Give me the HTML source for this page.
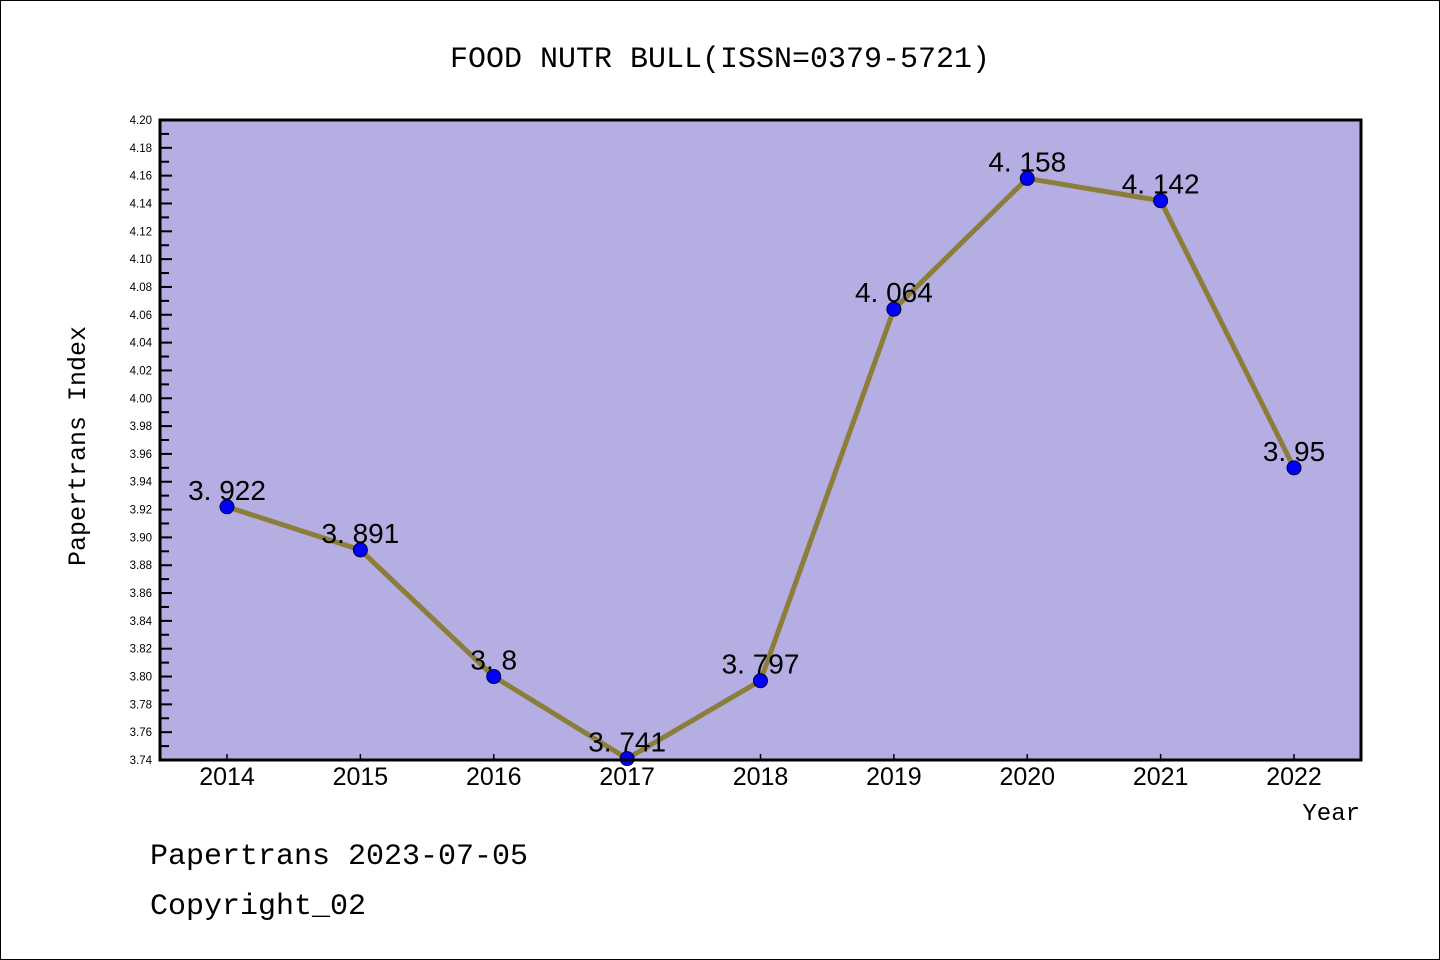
<!DOCTYPE html>
<html><head><meta charset="utf-8"><style>
html,body{margin:0;padding:0;background:#fff}
svg{display:block}
.mono{font-family:"Liberation Mono","WenQuanYi Zen Hei",monospace}
.sans{font-family:"Liberation Sans","DejaVu Sans",sans-serif}
</style></head><body>
<svg id="chart" width="1440" height="960" xmlns="http://www.w3.org/2000/svg">
<rect x="0.5" y="0.5" width="1439" height="959" fill="#fff" stroke="#000"/>
<text x="720" y="67" text-anchor="middle" class="mono" font-size="30">FOOD NUTR BULL(ISSN=0379-5721)</text>
<rect x="160" y="120" width="1201" height="640" fill="#b5aee2"/>
<g id="yaxis"></g>
<g id="xaxis"></g>
<g id="series"></g>
<rect x="160" y="120" width="1201" height="640" fill="none" stroke="#000" stroke-width="3"/>
<text transform="translate(85,446) rotate(-90)" text-anchor="middle" class="mono" font-size="25">Papertrans Index</text>
<text x="1360" y="820" text-anchor="end" class="mono" font-size="24">Year</text>
<text x="150" y="864" class="mono" font-size="30">Papertrans 2023-07-05</text>
<text x="150" y="914" class="mono" font-size="30">Copyright_02</text>
</svg>
<script>
const years = ["2014","2015","2016","2017","2018","2019","2020","2021","2022"];
const values = [3.922,3.891,3.8,3.741,3.797,4.064,4.158,4.142,3.95];
const valueLabels = ["3.922","3.891","3.8","3.741","3.797","4.064","4.158","4.142","3.95"];
const yMin = 3.74, yMax = 4.20;

const NS="http://www.w3.org/2000/svg";
const L=160,R=1361,T=120,B=760;
const x0=227, xStep=(1294-227)/(years.length-1);
function xs(i){return x0+i*xStep;}
function ys(v){return B-(v-yMin)/(yMax-yMin)*(B-T);}
function mk(tag,attrs,parent){const e=document.createElementNS(NS,tag);for(const k in attrs)e.setAttribute(k,attrs[k]);parent.appendChild(e);return e;}

const ya=document.getElementById('yaxis');
const nMinor=Math.round((yMax-yMin)/0.01);
for(let k=0;k<=nMinor;k++){
  const v=yMin+k*0.01, y=ys(v), major=k%2===0;
  const t=mk('line',{x1:L,x2:L+(major?12:9),y1:y,y2:y,stroke:'#000','stroke-width':2},ya);
  
  
  if(major){
    const lb=mk('text',{x:152,y:y+4,'text-anchor':'end','font-size':11.5,class:'sans'},ya);
    lb.textContent=v.toFixed(2);
    
    
  }
}
const xa=document.getElementById('xaxis');
years.forEach((yr,i)=>{
  const x=xs(i);
  const t=mk('line',{x1:x,x2:x,y1:B,y2:B-6,stroke:'#000','stroke-width':1.5},xa);
  
  
  const lb=mk('text',{x:x,y:785,'text-anchor':'middle','font-size':25,class:'sans'},xa);
  lb.textContent=yr;
  
  
});
const sg=document.getElementById('series');
const pts=values.map((v,i)=>xs(i)+','+ys(v)).join(' ');
const pl=mk('polyline',{points:pts,fill:'none',stroke:'#8b7d3a','stroke-width':5,'stroke-linejoin':'round'},sg);


values.forEach((v,i)=>{
  const c=mk('circle',{cx:xs(i),cy:ys(v),r:7,fill:'#0000ff',stroke:'#000033','stroke-width':1},sg);
  
  
  const lb=mk('text',{x:xs(i),y:ys(v)-7,'text-anchor':'middle','font-size':28,class:'sans',fill:'#000'},sg);
  lb.textContent=valueLabels[i].replace('.','. ');
  
  
});
</script>
</body></html>
